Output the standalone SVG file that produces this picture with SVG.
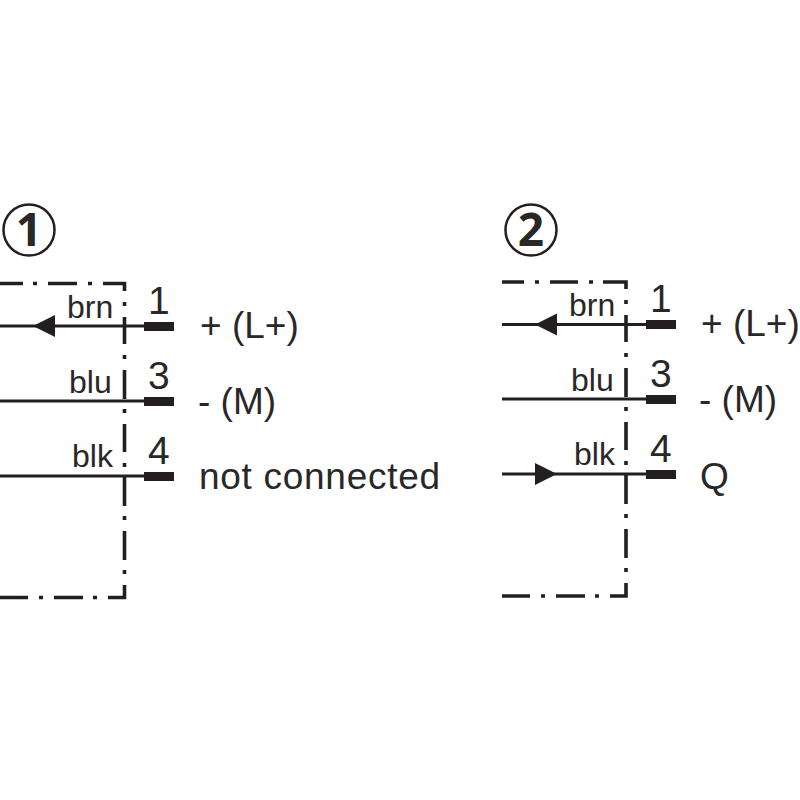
<svg xmlns="http://www.w3.org/2000/svg" width="800" height="800" viewBox="0 0 800 800">
<style>
text{font-family:"Liberation Sans",Arial,sans-serif;fill:#2a2728}
.w{font-size:32px}.n{font-size:39px}.l{font-size:37px}
.c{font-family:"Open Sans",sans-serif;font-size:46px;font-weight:700;text-anchor:middle}
.ring{fill:none;stroke:#231f20;stroke-width:2.5}
.wire{fill:none;stroke:#231f20;stroke-width:2.8}
.box{fill:none;stroke:#231f20;stroke-width:3.6}
.pin,.head{fill:#231f20}
</style>
<rect width="800" height="800" fill="#fff"/>
<g id="connectors">
<path class="box" d="M0 283.5H23M33 283.5H37M48 283.5H77M88 283.5H92M103 283.5H124.5V291M124.5 302V306M124.5 317V344M124.5 355V359M124.5 370V399M124.5 409V413M124.5 424V452M124.5 463V467M124.5 477V506M124.5 516V520M124.5 531V560M124.5 570V574M124.5 585V597.5H108M97 597.5H93M83 597.5H54M43 597.5H39M28 597.5H0"/>
<path class="box" d="M502 282H524M535 282H539M550 282H578M589 282H593M603 282H626V289M626 300V304M626 315V342M626 353V357M626 368V397M626 407V411M626 422V450M626 461V465M626 475V504M626 514V518M626 529V558M626 568V572M626 583V596H610M599 596H595M585 596H556M545 596H541M530 596H502"/>
<path class="wire" d="M0 326H146M0 401H146M0 476H146M502 324.5H648M502 399H648M502 474H648"/>
<path class="head" d="M33 326L55 315V337Z"/>
<path class="head" d="M535 324.5L557 313.5V335.500Z"/>
<path class="head" d="M557 474L535 463V485Z"/>
</g>
<g id="panel-1">
<g id="badge-1"><circle class="ring" cx="29" cy="230" r="25.500"/><text class="c" x="29" y="246">1</text></g>
<g id="pin-1-1"><rect class="pin" x="144" y="322" width="30" height="9"/><text class="w" x="67" y="318">brn</text><text class="n" x="148" y="314">1</text><text class="l" x="200" y="338">+ (L+)</text></g>
<g id="pin-1-3"><rect class="pin" x="144" y="397" width="30" height="9"/><text class="w" x="69" y="393">blu</text><text class="n" x="148" y="389">3</text><text class="l" x="198" y="414">- (M)</text></g>
<g id="pin-1-4"><rect class="pin" x="144" y="472" width="30" height="9"/><text class="w" x="72" y="467">blk</text><text class="n" x="148" y="464">4</text><text class="l" x="199" y="489" textLength="241" lengthAdjust="spacing">not connected</text></g>
</g>
<g id="panel-2">
<g id="badge-2"><circle class="ring" cx="531" cy="230" r="25.500"/><text class="c" x="531" y="246">2</text></g>
<g id="pin-2-1"><rect class="pin" x="646" y="320" width="30" height="9"/><text class="w" x="569" y="316">brn</text><text class="n" x="650" y="312">1</text><text class="l" x="701" y="336">+ (L+)</text></g>
<g id="pin-2-3"><rect class="pin" x="646" y="395" width="30" height="9"/><text class="w" x="571" y="391">blu</text><text class="n" x="650" y="387">3</text><text class="l" x="699" y="412">- (M)</text></g>
<g id="pin-2-4"><rect class="pin" x="646" y="470" width="30" height="9"/><text class="w" x="574" y="465">blk</text><text class="n" x="650" y="462">4</text><text class="l" x="700" y="489">Q</text></g>
</g>
</svg>
